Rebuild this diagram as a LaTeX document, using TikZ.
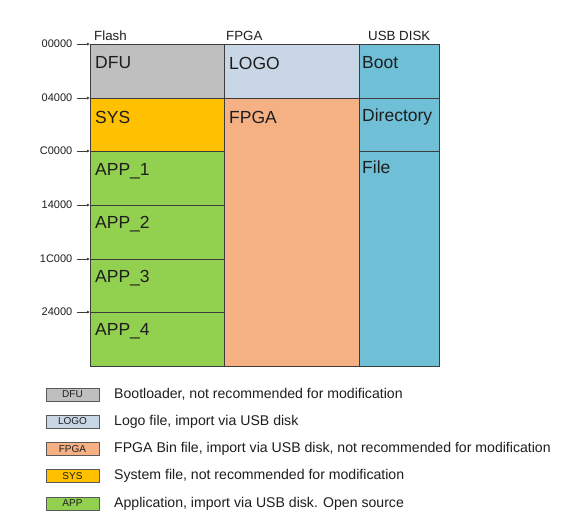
\documentclass[tikz,border=0pt]{standalone}
\usepackage{fontspec}
\setmainfont{Liberation Sans}
\usetikzlibrary{arrows.meta}
\definecolor{cDFU}{HTML}{BFBFBF}
\definecolor{cLOGO}{HTML}{C8D6E6}
\definecolor{cSYS}{HTML}{FFC000}
\definecolor{cAPP}{HTML}{92D050}
\definecolor{cFPGA}{HTML}{F5B183}
\definecolor{cUSB}{HTML}{6FBFD6}
\definecolor{cLine}{HTML}{3C3C3C}
\definecolor{cTxt}{HTML}{1E1E1E}
\begin{document}
\begin{tikzpicture}[x=1pt,y=-1pt,
  cell/.style={draw=cLine,line width=0.9pt,rectangle,inner sep=0pt,outer sep=0pt,anchor=north west},
  celltxt/.style={anchor=west,inner sep=0pt,font=\fontsize{17.5}{19}\selectfont,text=cTxt},
  head/.style={anchor=west,inner sep=0pt,font=\fontsize{13.3}{15}\selectfont,text=cTxt},
  addr/.style={anchor=east,inner sep=0pt,font=\fontsize{11}{12}\selectfont,text=cTxt},
  addrarrow/.style={draw=cLine,line width=0.8pt,-{Latex[length=3pt,width=3pt]}},
  legbox/.style={draw=gray!70!black,line width=0.5pt,rectangle,inner sep=0pt,minimum width=53pt,minimum height=13pt,font=\fontsize{10}{11}\selectfont,text=cTxt},
  legtxt/.style={anchor=west,inner sep=0pt,font=\fontsize{14.1}{16}\selectfont,text=cTxt}
]
\useasboundingbox[fill=white] (0,0) rectangle (585,531);
% headers
\node[head] (hflash) at (94,36) {Flash};
\node[head] (hfpga) at (226,36) {FPGA};
\node[head] (husb) at (368,36) {USB DISK};
% flash column
\node[cell,fill=cDFU,minimum width=134pt,minimum height=54pt] (dfu) at (90,44) {};
\node[cell,fill=cSYS,minimum width=134pt,minimum height=53pt] (sys) at (90,98) {};
\node[cell,fill=cAPP,minimum width=134pt,minimum height=54pt] (app1) at (90,151) {};
\node[cell,fill=cAPP,minimum width=134pt,minimum height=54pt] (app2) at (90,205) {};
\node[cell,fill=cAPP,minimum width=134pt,minimum height=53pt] (app3) at (90,259) {};
\node[cell,fill=cAPP,minimum width=134pt,minimum height=54pt] (app4) at (90,312) {};
% fpga column
\node[cell,fill=cLOGO,minimum width=135pt,minimum height=54pt] (logo) at (224,44) {};
\node[cell,fill=cFPGA,minimum width=135pt,minimum height=268pt] (fpga) at (224,98) {};
% usb column
\node[cell,fill=cUSB,minimum width=80pt,minimum height=54pt] (boot) at (359,44) {};
\node[cell,fill=cUSB,minimum width=80pt,minimum height=53pt] (dir) at (359,98) {};
\node[cell,fill=cUSB,minimum width=80pt,minimum height=215pt] (file) at (359,151) {};
% cell labels
\node[celltxt] (tdfu) at (95,63) {DFU};
\node[celltxt] (tsys) at (95,117) {SYS};
\node[celltxt] (tapp1) at (95,171) {APP\_1};
\node[celltxt] (tapp2) at (95,224) {APP\_2};
\node[celltxt] (tapp3) at (95,278) {APP\_3};
\node[celltxt] (tapp4) at (95,331) {APP\_4};
\node[celltxt] (tlogo) at (229,63) {LOGO};
\node[celltxt] (tfpga) at (229,117) {FPGA};
\node[celltxt] (tboot) at (362,63) {Boot};
\node[celltxt] (tdir) at (362,117) {Directory};
\node[celltxt] (tfile) at (362,167) {File};
% addresses
\node[addr] (a0) at (72.5,44) {00000};
\node[addr] (a1) at (72.5,98) {04000};
\node[addr] (a2) at (72.5,151) {C0000};
\node[addr] (a3) at (72.5,205) {14000};
\node[addr] (a4) at (72.5,259) {1C000};
\node[addr] (a5) at (72.5,312) {24000};
\draw[addrarrow] ([xshift=4pt]a0.east) -- (dfu.north west);
\draw[addrarrow] ([xshift=4pt]a1.east) -- (sys.north west);
\draw[addrarrow] ([xshift=4pt]a2.east) -- (app1.north west);
\draw[addrarrow] ([xshift=4pt]a3.east) -- (app2.north west);
\draw[addrarrow] ([xshift=4pt]a4.east) -- (app3.north west);
\draw[addrarrow] ([xshift=4pt]a5.east) -- (app4.north west);
% legend
\node[legbox,fill=cDFU] (lDFU) at (72.5,394.5) {DFU};
\node[legbox,fill=cLOGO] (lLOGO) at (72.5,421.5) {LOGO};
\node[legbox,fill=cFPGA] (lFPGA) at (72.5,449) {FPGA};
\node[legbox,fill=cSYS] (lSYS) at (72.5,476) {SYS};
\node[legbox,fill=cAPP] (lAPP) at (72.5,503.5) {APP};
\node[legtxt] (xDFU) at (114,394.5) {Bootloader, not recommended for modification};
\node[legtxt] (xLOGO) at (114,421.5) {Logo file, import via USB disk};
\node[legtxt] (xFPGA) at (114,449) {FPGA Bin file, import via USB disk, not recommended for modification};
\node[legtxt] (xSYS) at (114,476) {System file, not recommended for modification};
\node[legtxt] (xAPP) at (114,503.5) {Application, import via USB disk. Open source};
\end{tikzpicture}
\end{document}
